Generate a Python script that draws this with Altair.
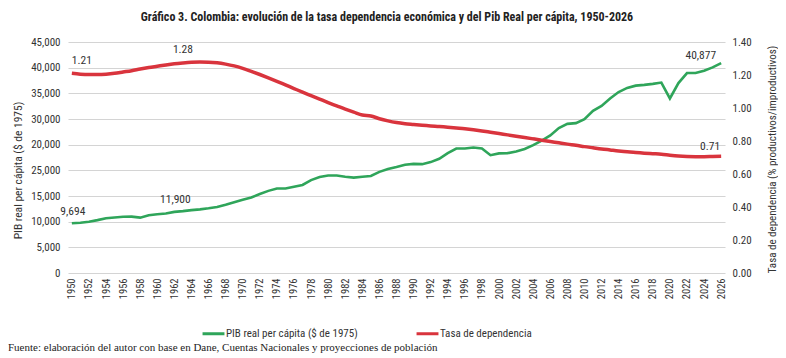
import altair as alt
import pandas as pd

years = list(range(1950, 2027))
pib = [9694, 9800, 10000, 10300, 10650, 10800, 10950, 10980, 10780, 11250,
       11450, 11600, 11900, 12050, 12250, 12400, 12600, 12850, 13300, 13800,
       14250, 14700, 15400, 16000, 16450, 16450, 16800, 17150, 18100, 18700,
       18980, 18980, 18750, 18590, 18750, 18900, 19700, 20250, 20650, 21100,
       21250, 21200, 21600, 22250, 23350, 24250, 24250, 24450, 24250, 22950,
       23300, 23350, 23650, 24150, 24900, 25800, 26800, 28250, 29050, 29200,
       29950, 31600, 32550, 34000, 35250, 36050, 36500, 36650, 36850, 37100,
       34000, 37000, 38950, 38950, 39400, 40050, 40877]
dep = [1.21, 1.205, 1.203, 1.203, 1.205, 1.21, 1.218, 1.226, 1.236, 1.245,
       1.253, 1.261, 1.268, 1.273, 1.277, 1.279, 1.278, 1.274, 1.266, 1.255,
       1.24, 1.222, 1.203, 1.183, 1.162, 1.14, 1.118, 1.096, 1.075, 1.054,
       1.033, 1.013, 0.993, 0.975, 0.958, 0.952, 0.935, 0.922, 0.912, 0.905,
       0.90, 0.895, 0.891, 0.888, 0.884, 0.879, 0.874, 0.868, 0.861, 0.853,
       0.845, 0.837, 0.829, 0.821, 0.813, 0.805, 0.797, 0.789, 0.781, 0.774,
       0.766, 0.759, 0.752, 0.746, 0.740, 0.735, 0.730, 0.726, 0.723, 0.720,
       0.714, 0.709, 0.706, 0.705, 0.705, 0.706, 0.707]

series_names = ["PIB real per cápita ($ de 1975)", "Tasa de dependencia"]
series_colors = ["#2fa55a", "#d9343d"]

title_text = "Gráfico 3. Colombia: evolución de la tasa dependencia económica y del Pib Real per cápita, 1950-2026"
source_text = "Fuente: elaboración del autor con base en Dane, Cuentas Nacionales y proyecciones de población"

pib_label_years = [1950, 1962, 2026]
pib_label_text = ["9,694", "11,900", "40,877"]
dep_label_years = [1950, 1963, 2026]
dep_label_text = ["1.21", "1.28", "0.71"]

pib_df = pd.DataFrame({"year": years, "pib": pib, "s": series_names[0]})
dep_df = pd.DataFrame({"year": years, "dep": dep, "s": series_names[1]})
pib_lab = pd.DataFrame({"year": pib_label_years, "pib": [pib[y - 1950] for y in pib_label_years], "t": pib_label_text})
dep_lab = pd.DataFrame({"year": dep_label_years, "dep": [dep[y - 1950] for y in dep_label_years], "t": dep_label_text})

FONT = "Roboto Condensed, Liberation Sans Narrow, DejaVu Sans Condensed, sans-serif"
TXT = "#333333"

xenc = alt.X("year:Q", scale=alt.Scale(domain=[1949.55, 2026.45], nice=False, zero=False),
             axis=alt.Axis(values=list(range(1950, 2027, 2)), format="d", labelAngle=270,
                           title=None, domain=False, ticks=False, grid=False, labelPadding=5,
                           labelOverlap=False, labelFlush=False,
                           labelFontSize=10.5, labelColor=TXT, labelFont=FONT))

yleft_scale = alt.Scale(domain=[0, 45000], nice=False)
yright_scale = alt.Scale(domain=[0, 1.4], nice=False)

yleft = alt.Y("pib:Q", scale=yleft_scale,
              axis=alt.Axis(values=list(range(0, 45001, 5000)),
                            labelExpr="datum.value == 25000 ? '20,000' : datum.value == 20000 ? '25,000' : format(datum.value, ',')",
                            title="PIB real per cápita ($ de 1975)", titleFont=FONT, titleFontSize=11.5,
                            titleFontWeight="normal", titleColor=TXT, titleY=128, titleX=-50,
                            titleAngle=270, titleAlign="center", titleBaseline="middle",
                            labelOverlap=False, labelFlush=False,
                            labelFont=FONT, labelFontSize=11, labelColor=TXT, labelPadding=8,
                            domain=False, ticks=False, grid=True, gridColor="#d4d4d4", gridWidth=1.2))
yright = alt.Y("dep:Q", scale=yright_scale,
               axis=alt.Axis(orient="right", values=[0, 0.2, 0.4, 0.6, 0.8, 1.0, 1.2, 1.4], format=".2f",
                             title="Tasa de dependencia (% productivos/improductivos)", titleFont=FONT,
                             titleFontSize=11, titleFontWeight="normal", titleColor=TXT,
                             titleAngle=270, titleAlign="center", titleBaseline="middle",
                             titleX=47, titleY=117,
                             labelOverlap=False, labelFlush=False,
                             labelFont=FONT, labelFontSize=11, labelColor=TXT, labelPadding=7,
                             domain=False, ticks=False, grid=False))

color_scale = alt.Scale(domain=series_names, range=series_colors)
legend = alt.Legend(title=None, orient="none", legendX=133, legendY=279, direction="horizontal",
                    symbolType="stroke", symbolStrokeWidth=3, symbolSize=480, columnPadding=52,
                    labelFont=FONT, labelFontSize=11, labelColor=TXT, labelOffset=0)

pib_line = alt.Chart(pib_df).mark_line(strokeWidth=2.6).encode(
    x=xenc, y=yleft, color=alt.Color("s:N", scale=color_scale, legend=legend))
dep_line = alt.Chart(dep_df).mark_line(strokeWidth=3.5, interpolate="monotone").encode(
    x=xenc, y=yright, color=alt.Color("s:N", scale=color_scale, legend=legend))

lab_style = dict(font=FONT, fontSize=11.5, color=TXT)
pl = alt.Chart(pib_lab)
pib_t1 = pl.transform_filter("datum.year == 1950").mark_text(align="center", dy=-11, dx=1, **lab_style).encode(
    x=xenc, y=yleft, text="t:N")
pib_t2 = pl.transform_filter("datum.year == 1962").mark_text(align="center", dy=-12, dx=1, **lab_style).encode(
    x=xenc, y=yleft, text="t:N")
pib_t3 = pl.transform_filter("datum.year == 2026").mark_text(align="right", dy=-7, dx=-5, **lab_style).encode(
    x=xenc, y=yleft, text="t:N")

dl = alt.Chart(dep_lab)
dep_t1 = dl.transform_filter("datum.year == 1950").mark_text(align="left", dy=-12, dx=0, **lab_style).encode(
    x=xenc, y=yright, text="t:N")
dep_t2 = dl.transform_filter("datum.year == 1963").mark_text(align="center", dy=-13, dx=0, **lab_style).encode(
    x=xenc, y=yright, text="t:N")
dep_t3 = dl.transform_filter("datum.year == 2026").mark_text(align="right", dy=-9, dx=-1, **lab_style).encode(
    x=xenc, y=yright, text="t:N")

title_mark = alt.Chart(pd.DataFrame({"t": [title_text]})).mark_text(
    font=FONT, fontSize=12, fontWeight="bold", color="#222222", align="center", baseline="middle"
).encode(x=alt.value(319), y=alt.value(-25), text="t:N")

source_mark = alt.Chart(pd.DataFrame({"t": [source_text]})).mark_text(
    font="Liberation Serif, serif", fontSize=11, color="#222222", align="left", baseline="middle"
).encode(x=alt.value(-60), y=alt.value(306), text="t:N")

left_layer = alt.layer(pib_line, pib_t1, pib_t2, pib_t3)
right_layer = alt.layer(dep_line, dep_t1, dep_t2, dep_t3)

chart = alt.layer(left_layer, right_layer, title_mark, source_mark).resolve_scale(
    y="independent"
).properties(
    width=657, height=231,
    autosize=alt.AutoSizeParams(type="none"),
    padding={"left": 60, "top": 34, "right": 53, "bottom": 84},
    background="white",
).configure_view(stroke=None)

chart.save("out.html", embed_options={"renderer": "svg", "actions": False})
